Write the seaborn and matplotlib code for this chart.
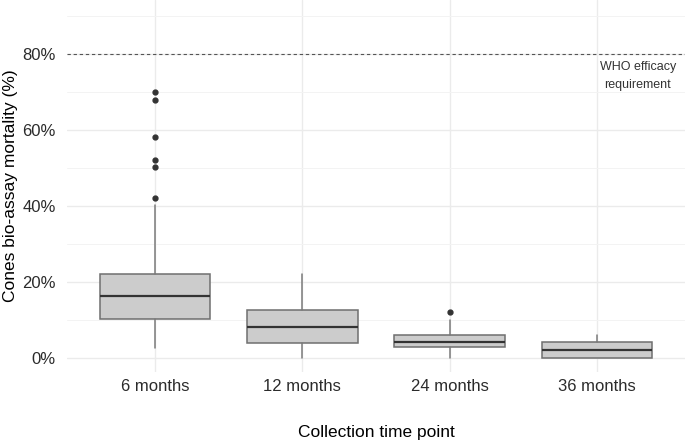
import matplotlib
matplotlib.use('Agg')
import matplotlib.pyplot as plt
import seaborn as sns

# summary statistics (mortality, %)
timepoints = ['6 months', '12 months', '24 months', '36 months']
whisker_low = [2.5, 0.0, 0.0, 0.0]
q1 = [10.3, 3.8, 2.8, 0.0]
medians = [16.3, 8.1, 4.1, 2.1]
q3 = [22.1, 12.5, 6.0, 4.0]
whisker_high = [40.2, 22.0, 10.0, 6.0]
outliers = [[42.2, 50.2, 52.0, 58.2, 68.0, 70.0], [], [12.0], []]

who_threshold = 80
y_ticks = [0, 20, 40, 60, 80]

sns.set_theme(style='whitegrid')
plt.rcParams['font.family'] = ['Liberation Sans', 'DejaVu Sans']

fig = plt.figure(figsize=(6.85, 4.44), dpi=100)
ax = fig.add_axes([67 / 685, 1 - 372 / 444, 618 / 685, 372 / 444])

stats = []
for i, name in enumerate(timepoints):
    stats.append(dict(label=name, whislo=whisker_low[i], q1=q1[i], med=medians[i],
                      q3=q3[i], whishi=whisker_high[i], fliers=outliers[i]))

ax.bxp(stats, positions=range(len(timepoints)), widths=0.75, patch_artist=True,
       showcaps=False,
       boxprops=dict(facecolor='#cccccc', edgecolor='#6f6f6f', linewidth=1.1),
       medianprops=dict(color='#333333', linewidth=1.6),
       whiskerprops=dict(color='#7a7a7a', linewidth=1.1),
       flierprops=dict(marker='o', markersize=3.5, markerfacecolor='#333333',
                       markeredgecolor='#333333'))

ax.axhline(who_threshold, color='#555555', linestyle=(0, (3, 2.5)), linewidth=0.8)
ax.text(3.28, who_threshold - 1.8, 'WHO efficacy\nrequirement', ha='center', va='top',
        fontsize=9, color='#333333', linespacing=1.7)

ax.set_xlim(-0.6, 3.6)
ax.set_ylim(-3.8, 94.3)
ax.set_yticks(y_ticks)
ax.set_yticklabels([f'{t}%' for t in y_ticks])
ax.set_yticks([10, 30, 50, 70, 90], minor=True)
ax.grid(True, which='major', color='#ebebeb', linewidth=1.0)
ax.grid(True, which='minor', axis='y', color='#f3f3f3', linewidth=0.7)
ax.set_facecolor('white')
for s in ax.spines.values():
    s.set_visible(False)
ax.tick_params(axis='both', which='both', length=0, labelsize=12, labelcolor='#2b2b2b')
ax.tick_params(axis='x', pad=5)
ax.tick_params(axis='y', pad=8)

ax.set_xlabel('Collection time point', fontsize=12.5, color='black', labelpad=22)
ax.set_ylabel('Cones bio-assay mortality (%)', fontsize=12.5, color='black', labelpad=3)

fig.savefig('out.png', dpi=100)
